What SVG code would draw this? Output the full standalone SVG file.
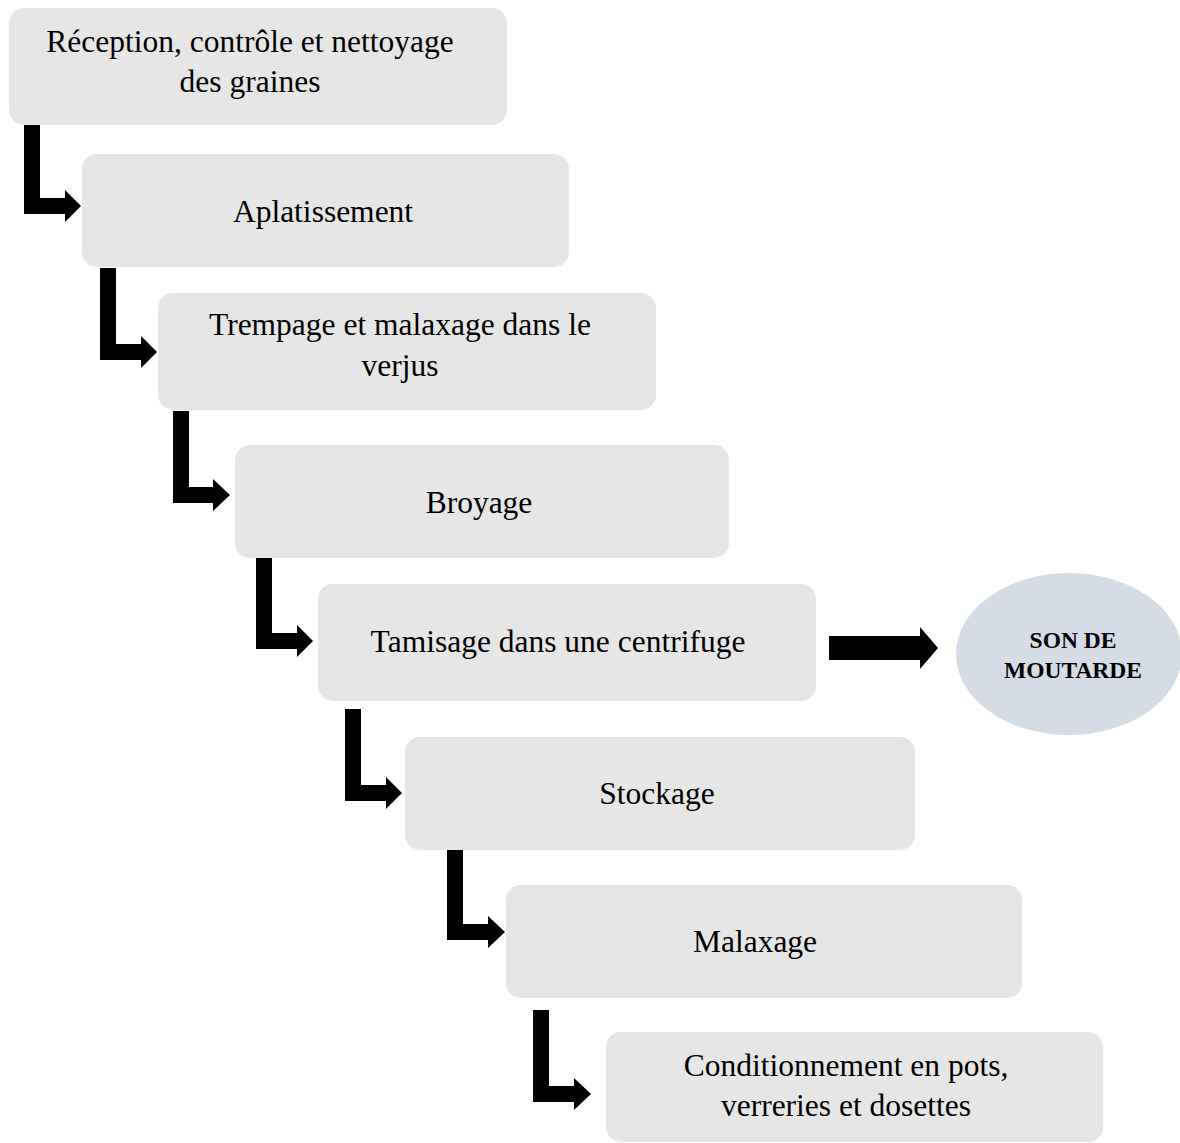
<svg xmlns="http://www.w3.org/2000/svg" width="1180" height="1143" viewBox="0 0 1180 1143">
<style>
.box{fill:#e7e6e6;}
.t{font-family:"Liberation Serif","Times New Roman",serif;font-size:31.5px;fill:#000;text-anchor:middle;}
.b{font-family:"Liberation Serif","Times New Roman",serif;font-size:23.5px;font-weight:bold;fill:#000;text-anchor:middle;}
.arr{fill:#000;}
</style>
<rect width="1180" height="1143" fill="#fff"/>
<g id="connectors">
<polygon class="arr" points="24,124 40,124 40,198 65,198 65,190 81,206 65,222 65,214 24,214"/>
<polygon class="arr" points="100,268 116,268 116,344 141,344 141,336 157,352 141,368 141,360 100,360"/>
<polygon class="arr" points="173,411 189,411 189,487 213,487 213,479 230,495 213,511 213,503 173,503"/>
<polygon class="arr" points="256,557 272,557 272,633 297,633 297,625 313,641 297,657 297,649 256,649"/>
<polygon class="arr" points="345,709 361,709 361,785 386,785 386,777 402,793 386,809 386,801 345,801"/>
<polygon class="arr" points="447,848 463,848 463,924 488,924 488,916 505,932 488,948 488,940 447,940"/>
<polygon class="arr" points="533,1010 549,1010 549,1086 574,1086 574,1078 591,1094 574,1110 574,1102 533,1102"/>
<polygon class="arr" points="829,636 920,636 920,627 938,648 920,669 920,660 829,660"/>
</g>
<g id="n1"><rect class="box" x="9" y="8" width="498" height="117" rx="15"/>
<text class="t" x="250" y="52">Réception, contrôle et nettoyage</text>
<text class="t" x="250" y="92">des graines</text></g>
<g id="n2"><rect class="box" x="82" y="154" width="487" height="113" rx="15"/>
<text class="t" x="323" y="222">Aplatissement</text></g>
<g id="n3"><rect class="box" x="158" y="293" width="498" height="117" rx="15"/>
<text class="t" x="400" y="335">Trempage et malaxage dans le</text>
<text class="t" x="400" y="376">verjus</text></g>
<g id="n4"><rect class="box" x="235" y="445" width="494" height="113" rx="15"/>
<text class="t" x="479" y="513">Broyage</text></g>
<g id="n5"><rect class="box" x="318" y="584" width="498" height="117" rx="15"/>
<text class="t" x="558" y="652">Tamisage dans une centrifuge</text></g>
<g id="n6"><ellipse cx="1069" cy="654" rx="113" ry="81" fill="#d6dce5"/>
<text class="b" x="1073" y="648">SON DE</text>
<text class="b" x="1073" y="678">MOUTARDE</text></g>
<g id="n7"><rect class="box" x="405" y="737" width="510" height="113" rx="15"/>
<text class="t" x="657" y="804">Stockage</text></g>
<g id="n8"><rect class="box" x="506" y="885" width="516" height="113" rx="15"/>
<text class="t" x="755" y="952">Malaxage</text></g>
<g id="n9"><rect class="box" x="606" y="1032" width="497" height="110" rx="15"/>
<text class="t" x="846" y="1076">Conditionnement en pots,</text>
<text class="t" x="846" y="1116">verreries et dosettes</text></g>
</svg>
